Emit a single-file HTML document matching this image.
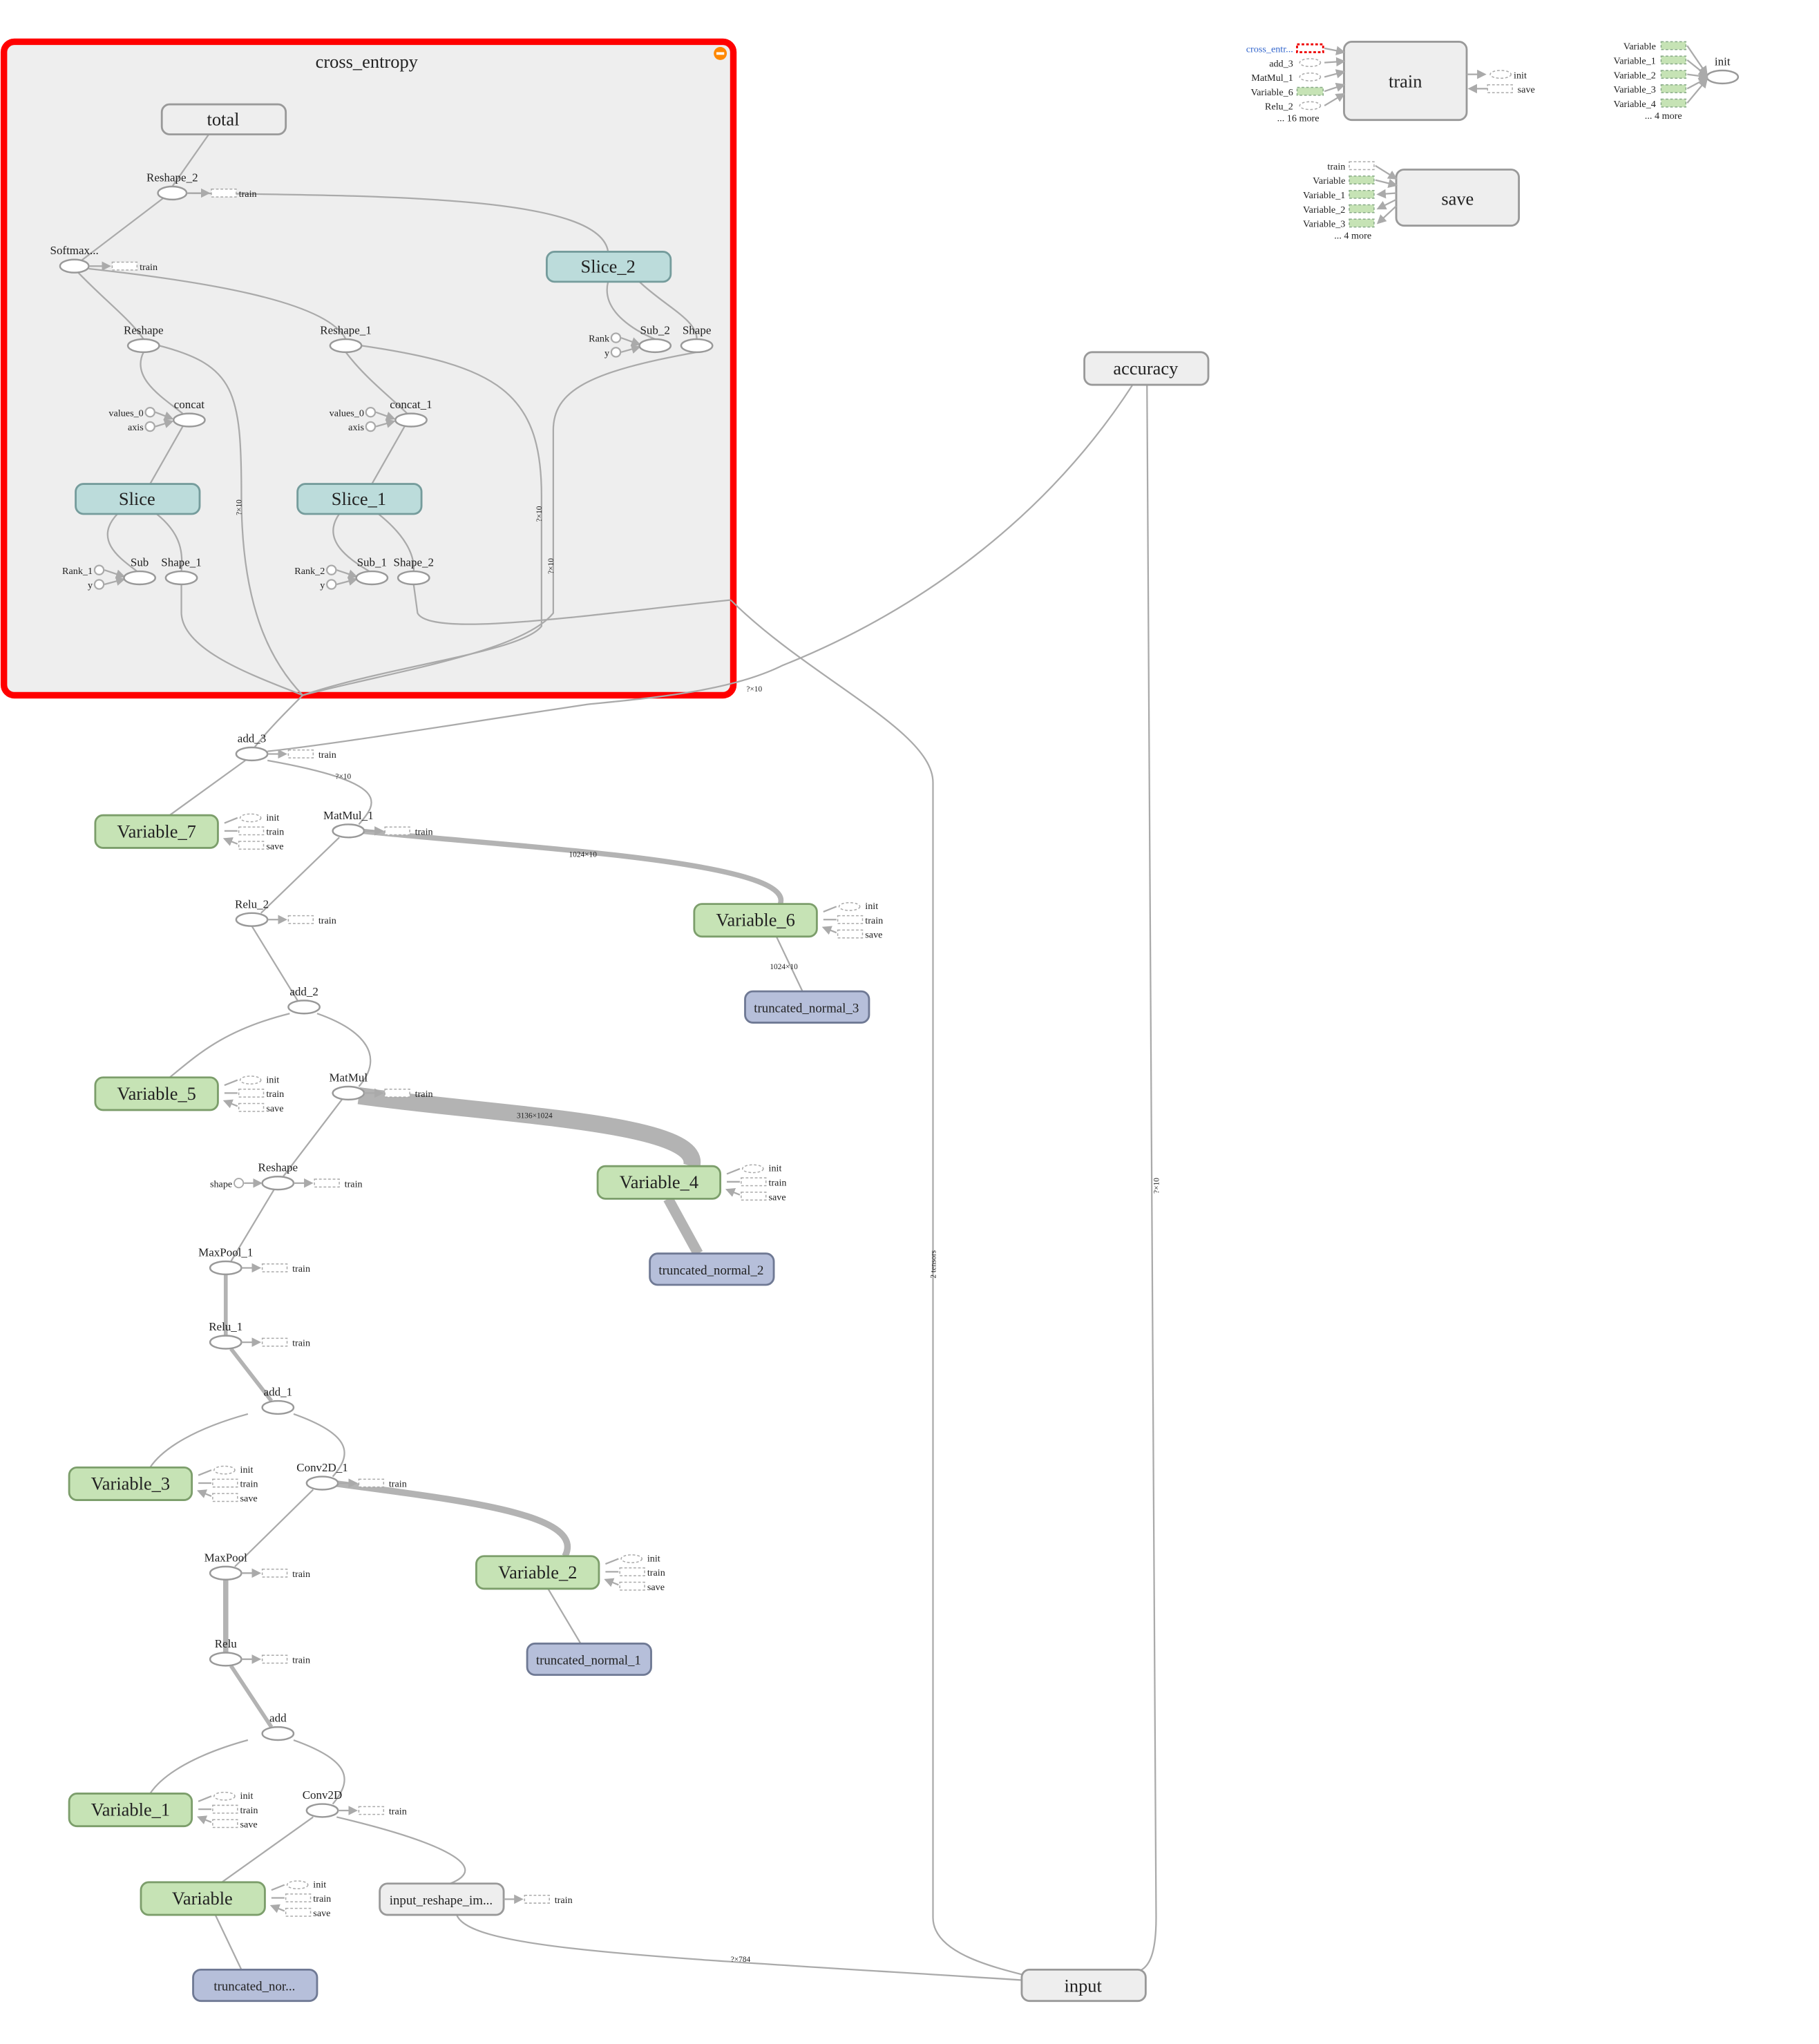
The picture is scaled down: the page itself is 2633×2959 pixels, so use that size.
<!DOCTYPE html>
<html><head><meta charset="utf-8"><style>
html,body{margin:0;padding:0;background:#fff;}
svg{display:block;}
text{font-family:"Liberation Serif",serif;fill:#222;}
.e{fill:none;stroke:#aaa;stroke-width:1.2;}
.op{fill:#fff;stroke:#999;stroke-width:1.3;}
.g{fill:#eee;stroke:#999;stroke-width:1.5;}
.gr{fill:#c6e3b5;stroke:#7c9e6b;stroke-width:1.5;}
.tl{fill:#bcdcdb;stroke:#759c9c;stroke-width:1.5;}
.bl{fill:#b6bfda;stroke:#6f7994;stroke-width:1.5;}
.d{fill:#fff;stroke:#aaa;stroke-dasharray:2,1.5;stroke-width:0.8;}
.dg{fill:#c6e3b5;stroke:#8a8;stroke-dasharray:2,1.5;stroke-width:0.8;}
.n{font-size:14px;text-anchor:middle;}
.s{font-size:9px;text-anchor:middle;}
.t{font-size:7.5px;}
.r{font-size:7.5px;text-anchor:end;}
</style></head><body>
<svg width="2633" height="2959" viewBox="0 0 1394 1567" preserveAspectRatio="none" xmlns="http://www.w3.org/2000/svg">
<defs><marker id="a" markerWidth="6" markerHeight="6" refX="5" refY="3" orient="auto"><path d="M0,0L6,3L0,6z" fill="#aaa"/></marker></defs>

<rect x="3" y="32" width="559" height="501" rx="8" fill="#eee" stroke="#f00" stroke-width="5"/>
<text x="281" y="52" class="n">cross_entropy</text>
<circle cx="552" cy="41" r="5" fill="#f80"/><rect x="549" y="40" width="6" height="2" fill="#fff"/>

<g class="e">
<path d="M160,103 L132,143"/>
<path d="M132,148 C300,150 460,150 466,193"/>
<path d="M125,152 L62,200"/>
<path d="M68,206 C150,215 250,230 265,260"/>
<path d="M60,209 C80,230 100,245 110,260"/>
<path d="M466,216 C460,240 490,255 502,260"/>
<path d="M490,216 C510,235 534,245 534,260"/>
<path d="M110,270 C100,290 125,305 140,317"/>
<path d="M265,270 C280,290 300,305 312,317"/>
<path d="M140,327 L115,371"/>
<path d="M310,327 L285,371"/>
<path d="M90,394 C70,415 95,430 105,438"/>
<path d="M120,394 C140,410 140,425 139,438"/>
<path d="M260,394 C245,415 270,430 283,438"/>
<path d="M290,394 C310,410 318,425 317,438"/>
<path d="M122,265 C180,280 185,300 185,380 C185,470 210,510 232,533"/>
<path d="M277,265 C380,280 415,300 415,380 L415,480 C400,500 300,510 232,533"/>
<path d="M534,270 C450,285 424,300 424,330 L424,470 C400,500 300,515 232,533"/>
<path d="M139,448 L139,470 C140,500 200,520 232,533"/>
<path d="M317,448 L320,470 C330,490 460,470 560,460"/>
</g>
<g fill="#fff" stroke="#aaa" stroke-width="1.2">
<circle cx="472" cy="259" r="3.5"/><circle cx="472" cy="270" r="3.5"/>
<circle cx="115" cy="316" r="3.5"/><circle cx="115" cy="327" r="3.5"/>
<circle cx="284" cy="316" r="3.5"/><circle cx="284" cy="327" r="3.5"/>
<circle cx="76" cy="437" r="3.5"/><circle cx="76" cy="448" r="3.5"/>
<circle cx="254" cy="437" r="3.5"/><circle cx="254" cy="448" r="3.5"/>
</g>
<g class="e" marker-end="url(#a)">
<path d="M476,259 L490,264"/><path d="M476,270 L490,266"/>
<path d="M119,316 L132,321"/><path d="M119,327 L132,323"/>
<path d="M288,316 L302,321"/><path d="M288,327 L302,323"/>
<path d="M80,437 L95,442"/><path d="M80,448 L95,444"/>
<path d="M258,437 L273,442"/><path d="M258,448 L273,444"/>
</g>
<rect x="124" y="80" width="95" height="23" rx="6" class="g"/><text x="171" y="96" class="n">total</text>
<rect x="419" y="193" width="95" height="23" rx="6" class="tl"/><text x="466" y="209" class="n">Slice_2</text>
<rect x="58" y="371" width="95" height="23" rx="6" class="tl"/><text x="105" y="387" class="n">Slice</text>
<rect x="228" y="371" width="95" height="23" rx="6" class="tl"/><text x="275" y="387" class="n">Slice_1</text>
<g class="op">
<ellipse cx="132" cy="148" rx="11" ry="5"/><ellipse cx="57" cy="204" rx="11" ry="5"/>
<ellipse cx="110" cy="265" rx="12" ry="5"/><ellipse cx="265" cy="265" rx="12" ry="5"/>
<ellipse cx="502" cy="265" rx="12" ry="5"/><ellipse cx="534" cy="265" rx="12" ry="5"/>
<ellipse cx="145" cy="322" rx="12" ry="5"/><ellipse cx="315" cy="322" rx="12" ry="5"/>
<ellipse cx="107" cy="443" rx="12" ry="5"/><ellipse cx="139" cy="443" rx="12" ry="5"/>
<ellipse cx="285" cy="443" rx="12" ry="5"/><ellipse cx="317" cy="443" rx="12" ry="5"/>
</g>
<text x="132" y="139" class="s">Reshape_2</text><text x="57" y="195" class="s">Softmax...</text>
<text x="110" y="256" class="s">Reshape</text><text x="265" y="256" class="s">Reshape_1</text>
<text x="502" y="256" class="s">Sub_2</text><text x="534" y="256" class="s">Shape</text>
<text x="145" y="313" class="s">concat</text><text x="315" y="313" class="s">concat_1</text>
<text x="107" y="434" class="s">Sub</text><text x="139" y="434" class="s">Shape_1</text>
<text x="285" y="434" class="s">Sub_1</text><text x="317" y="434" class="s">Shape_2</text>
<text x="467" y="262" class="r">Rank</text><text x="467" y="273" class="r">y</text>
<text x="110" y="319" class="r">values_0</text><text x="110" y="330" class="r">axis</text>
<text x="279" y="319" class="r">values_0</text><text x="279" y="330" class="r">axis</text>
<text x="71" y="440" class="r">Rank_1</text><text x="71" y="451" class="r">y</text>
<text x="249" y="440" class="r">Rank_2</text><text x="249" y="451" class="r">y</text>
<g class="e" marker-end="url(#a)"><path d="M143,148 L160,148"/><path d="M68,204 L84,204"/></g>
<rect x="162" y="145" width="19" height="6" class="d"/><text x="183" y="151" class="t">train</text>
<rect x="86" y="201" width="19" height="6" class="d"/><text x="107" y="207" class="t">train</text>

<g class="e">
<path d="M232,533 C220,545 205,560 195,573"/>
<path d="M560,460 C620,520 715,560 715,600 L715,1470 C715,1500 770,1510 800,1518"/>
<path d="M868,295 C800,400 700,470 600,510 C560,530 500,535 450,540 C350,555 260,570 205,576"/>
<path d="M879,295 L886,1470 C886,1500 880,1510 870,1512"/>
<path d="M188,583 L130,625"/>
<path d="M205,583 C300,600 290,615 275,632"/>
<path d="M260,642 L200,700"/>
<path d="M193,710 L228,767"/>
<path d="M222,777 C170,790 150,810 130,826"/>
<path d="M243,777 C280,790 295,810 275,833"/>
<path d="M262,843 L217,902"/>
<path d="M210,912 L177,967"/>
<path d="M190,1084 C150,1095 125,1110 115,1125"/>
<path d="M225,1084 C270,1100 270,1115 255,1132"/>
<path d="M240,1142 L180,1201"/>
<path d="M190,1334 C150,1345 125,1360 115,1375"/>
<path d="M225,1334 C270,1350 270,1365 255,1383"/>
<path d="M240,1393 L170,1443"/>
<path d="M258,1393 C330,1410 380,1430 345,1444"/>
<path d="M350,1468 C360,1495 500,1500 783,1518"/>
<path d="M165,1468 L185,1510"/>
<path d="M595,718 L615,760"/>
<path d="M420,1218 L445,1260"/>
</g>
<g fill="none" stroke="#b3b3b3">
<path d="M275,637 C400,650 610,660 598,693" stroke-width="4"/>
<path d="M275,840 C380,855 540,860 530,894" stroke-width="13"/>
<path d="M512,919 L535,961" stroke-width="8"/>
<path d="M173,977 L173,1024" stroke-width="3"/>
<path d="M177,1034 L208,1074" stroke-width="3"/>
<path d="M255,1137 C350,1150 450,1160 433,1193" stroke-width="5"/>
<path d="M173,1211 L173,1267" stroke-width="4"/>
<path d="M177,1277 L208,1324" stroke-width="3"/>
</g>
<rect x="73" y="625" width="94" height="25" rx="6" class="gr"/><text x="120" y="642" class="n">Variable_7</text>
<rect x="532" y="693" width="94" height="25" rx="6" class="gr"/><text x="579" y="710" class="n">Variable_6</text>
<rect x="571" y="760" width="95" height="24" rx="6" class="bl"/><text x="618" y="776" class="s" style="font-size:10px">truncated_normal_3</text>
<rect x="73" y="826" width="94" height="25" rx="6" class="gr"/><text x="120" y="843" class="n">Variable_5</text>
<rect x="458" y="894" width="94" height="25" rx="6" class="gr"/><text x="505" y="911" class="n">Variable_4</text>
<rect x="498" y="961" width="95" height="24" rx="6" class="bl"/><text x="545" y="977" class="s" style="font-size:10px">truncated_normal_2</text>
<rect x="53" y="1125" width="94" height="25" rx="6" class="gr"/><text x="100" y="1142" class="n">Variable_3</text>
<rect x="365" y="1193" width="94" height="25" rx="6" class="gr"/><text x="412" y="1210" class="n">Variable_2</text>
<rect x="404" y="1260" width="95" height="24" rx="6" class="bl"/><text x="451" y="1276" class="s" style="font-size:10px">truncated_normal_1</text>
<rect x="53" y="1375" width="94" height="25" rx="6" class="gr"/><text x="100" y="1392" class="n">Variable_1</text>
<rect x="108" y="1443" width="95" height="25" rx="6" class="gr"/><text x="155" y="1460" class="n">Variable</text>
<rect x="291" y="1444" width="95" height="24" rx="6" class="g"/><text x="338" y="1460" class="s" style="font-size:10px">input_reshape_im...</text>
<rect x="148" y="1510" width="95" height="24" rx="6" class="bl"/><text x="195" y="1526" class="s" style="font-size:10px">truncated_nor...</text>
<rect x="783" y="1510" width="95" height="24" rx="6" class="g"/><text x="830" y="1527" class="n">input</text>
<rect x="831" y="270" width="95" height="25" rx="6" class="g"/><text x="878" y="287" class="n">accuracy</text>

<g class="op">
<ellipse cx="193" cy="578" rx="12" ry="5"/><ellipse cx="267" cy="637" rx="12" ry="5"/>
<ellipse cx="193" cy="705" rx="12" ry="5"/><ellipse cx="233" cy="772" rx="12" ry="5"/>
<ellipse cx="267" cy="838" rx="12" ry="5"/><ellipse cx="213" cy="907" rx="12" ry="5"/>
<ellipse cx="173" cy="972" rx="12" ry="5"/><ellipse cx="173" cy="1029" rx="12" ry="5"/>
<ellipse cx="213" cy="1079" rx="12" ry="5"/><ellipse cx="247" cy="1137" rx="12" ry="5"/>
<ellipse cx="173" cy="1206" rx="12" ry="5"/><ellipse cx="173" cy="1272" rx="12" ry="5"/>
<ellipse cx="213" cy="1329" rx="12" ry="5"/><ellipse cx="247" cy="1388" rx="12" ry="5"/>
<ellipse cx="1320" cy="59" rx="12" ry="5"/>
</g>
<circle cx="183" cy="907" r="3.5" fill="#fff" stroke="#aaa"/>
<path d="M187,907 L200,907" class="e" marker-end="url(#a)"/>
<text x="178" y="910" class="r">shape</text>
<g class="s">
<text x="193" y="569">add_3</text><text x="267" y="628">MatMul_1</text><text x="193" y="696">Relu_2</text>
<text x="233" y="763">add_2</text><text x="267" y="829">MatMul</text><text x="213" y="898">Reshape</text>
<text x="173" y="963">MaxPool_1</text><text x="173" y="1020">Relu_1</text><text x="213" y="1070">add_1</text>
<text x="247" y="1128">Conv2D_1</text><text x="173" y="1197">MaxPool</text><text x="173" y="1263">Relu</text>
<text x="213" y="1320">add</text><text x="247" y="1379">Conv2D</text>
</g>
<g class="e" marker-end="url(#a)">
<path d="M205,578 L219,578"/><path d="M279,637 L293,637"/><path d="M205,705 L219,705"/>
<path d="M279,838 L293,838"/><path d="M225,907 L239,907"/><path d="M185,972 L199,972"/>
<path d="M185,1029 L199,1029"/><path d="M259,1137 L273,1137"/><path d="M185,1206 L199,1206"/>
<path d="M185,1272 L199,1272"/><path d="M259,1388 L273,1388"/><path d="M386,1456 L400,1456"/>
</g>
<g class="d">
<rect x="221" y="575" width="19" height="6"/><rect x="295" y="634" width="19" height="6"/><rect x="221" y="702" width="19" height="6"/>
<rect x="295" y="835" width="19" height="6"/><rect x="241" y="904" width="19" height="6"/><rect x="201" y="969" width="19" height="6"/>
<rect x="201" y="1026" width="19" height="6"/><rect x="275" y="1134" width="19" height="6"/><rect x="201" y="1203" width="19" height="6"/>
<rect x="201" y="1269" width="19" height="6"/><rect x="275" y="1385" width="19" height="6"/><rect x="402" y="1453" width="19" height="6"/>
</g>
<g class="t">
<text x="244" y="581">train</text><text x="318" y="640">train</text><text x="244" y="708">train</text>
<text x="318" y="841">train</text><text x="264" y="910">train</text><text x="224" y="975">train</text>
<text x="224" y="1032">train</text><text x="298" y="1140">train</text><text x="224" y="1209">train</text>
<text x="224" y="1275">train</text><text x="298" y="1391">train</text><text x="425" y="1459">train</text>
</g>
<g>
<g transform="translate(167,637)"><path d="M5,-6 L15,-10" class="e"/><path d="M5,0 L15,0" class="e"/><path d="M15,10 L5,6" class="e" marker-end="url(#a)"/><ellipse cx="25" cy="-10" rx="8" ry="3" class="d"/><rect x="16" y="-3" width="19" height="6" class="d"/><rect x="16" y="8" width="19" height="6" class="d"/><text x="37" y="-8" class="t">init</text><text x="37" y="3" class="t">train</text><text x="37" y="14" class="t">save</text></g>
<g transform="translate(626,705)"><path d="M5,-6 L15,-10" class="e"/><path d="M5,0 L15,0" class="e"/><path d="M15,10 L5,6" class="e" marker-end="url(#a)"/><ellipse cx="25" cy="-10" rx="8" ry="3" class="d"/><rect x="16" y="-3" width="19" height="6" class="d"/><rect x="16" y="8" width="19" height="6" class="d"/><text x="37" y="-8" class="t">init</text><text x="37" y="3" class="t">train</text><text x="37" y="14" class="t">save</text></g>
<g transform="translate(167,838)"><path d="M5,-6 L15,-10" class="e"/><path d="M5,0 L15,0" class="e"/><path d="M15,10 L5,6" class="e" marker-end="url(#a)"/><ellipse cx="25" cy="-10" rx="8" ry="3" class="d"/><rect x="16" y="-3" width="19" height="6" class="d"/><rect x="16" y="8" width="19" height="6" class="d"/><text x="37" y="-8" class="t">init</text><text x="37" y="3" class="t">train</text><text x="37" y="14" class="t">save</text></g>
<g transform="translate(552,906)"><path d="M5,-6 L15,-10" class="e"/><path d="M5,0 L15,0" class="e"/><path d="M15,10 L5,6" class="e" marker-end="url(#a)"/><ellipse cx="25" cy="-10" rx="8" ry="3" class="d"/><rect x="16" y="-3" width="19" height="6" class="d"/><rect x="16" y="8" width="19" height="6" class="d"/><text x="37" y="-8" class="t">init</text><text x="37" y="3" class="t">train</text><text x="37" y="14" class="t">save</text></g>
<g transform="translate(147,1137)"><path d="M5,-6 L15,-10" class="e"/><path d="M5,0 L15,0" class="e"/><path d="M15,10 L5,6" class="e" marker-end="url(#a)"/><ellipse cx="25" cy="-10" rx="8" ry="3" class="d"/><rect x="16" y="-3" width="19" height="6" class="d"/><rect x="16" y="8" width="19" height="6" class="d"/><text x="37" y="-8" class="t">init</text><text x="37" y="3" class="t">train</text><text x="37" y="14" class="t">save</text></g>
<g transform="translate(459,1205)"><path d="M5,-6 L15,-10" class="e"/><path d="M5,0 L15,0" class="e"/><path d="M15,10 L5,6" class="e" marker-end="url(#a)"/><ellipse cx="25" cy="-10" rx="8" ry="3" class="d"/><rect x="16" y="-3" width="19" height="6" class="d"/><rect x="16" y="8" width="19" height="6" class="d"/><text x="37" y="-8" class="t">init</text><text x="37" y="3" class="t">train</text><text x="37" y="14" class="t">save</text></g>
<g transform="translate(147,1387)"><path d="M5,-6 L15,-10" class="e"/><path d="M5,0 L15,0" class="e"/><path d="M15,10 L5,6" class="e" marker-end="url(#a)"/><ellipse cx="25" cy="-10" rx="8" ry="3" class="d"/><rect x="16" y="-3" width="19" height="6" class="d"/><rect x="16" y="8" width="19" height="6" class="d"/><text x="37" y="-8" class="t">init</text><text x="37" y="3" class="t">train</text><text x="37" y="14" class="t">save</text></g>
<g transform="translate(203,1455)"><path d="M5,-6 L15,-10" class="e"/><path d="M5,0 L15,0" class="e"/><path d="M15,10 L5,6" class="e" marker-end="url(#a)"/><ellipse cx="25" cy="-10" rx="8" ry="3" class="d"/><rect x="16" y="-3" width="19" height="6" class="d"/><rect x="16" y="8" width="19" height="6" class="d"/><text x="37" y="-8" class="t">init</text><text x="37" y="3" class="t">train</text><text x="37" y="14" class="t">save</text></g>
</g>

<g class="t" fill="#555" style="font-size:6px">
<text x="572" y="530">?×10</text><text x="257" y="597">?×10</text><text x="436" y="657">1024×10</text>
<text x="396" y="857">3136×1024</text><text x="590" y="743">1024×10</text><text x="560" y="1504">?×784</text>
<text x="888" y="915" transform="rotate(-90 888 915)">?×10</text>
<text x="717" y="980" transform="rotate(-90 717 980)">2 tensors</text>
<text x="185" y="395" transform="rotate(-90 185 395)">?×10</text>
<text x="415" y="400" transform="rotate(-90 415 400)">?×10</text>
<text x="424" y="440" transform="rotate(-90 424 440)">?×10</text>
</g>

<rect x="1030" y="32" width="94" height="60" rx="6" class="g"/><text x="1077" y="67" class="n">train</text>
<g class="e" marker-end="url(#a)">
<path d="M1015,37 L1030,40"/><path d="M1015,48 L1030,47"/><path d="M1015,59 L1030,55"/>
<path d="M1015,70 L1030,65"/><path d="M1015,81 L1030,72"/>
<path d="M1124,57 L1138,57"/><path d="M1140,68 L1126,68"/>
</g>
<rect x="994" y="34" width="20" height="6" fill="#fff" stroke="#e00" stroke-dasharray="2,1.5" stroke-width="1.5"/>
<ellipse cx="1004" cy="48" rx="8" ry="3" class="d"/><ellipse cx="1004" cy="59" rx="8" ry="3" class="d"/>
<rect x="994" y="67" width="20" height="6" class="dg"/><ellipse cx="1004" cy="81" rx="8" ry="3" class="d"/>
<text x="991" y="40" class="r" style="fill:#36c">cross_entr...</text>
<text x="991" y="51" class="r">add_3</text><text x="991" y="62" class="r">MatMul_1</text>
<text x="991" y="73" class="r">Variable_6</text><text x="991" y="84" class="r">Relu_2</text>
<text x="1011" y="93" class="r">... 16 more</text>
<ellipse cx="1150" cy="57" rx="8" ry="3" class="d"/><rect x="1140" y="65" width="19" height="6" class="d"/>
<text x="1160" y="60" class="t">init</text><text x="1163" y="71" class="t">save</text>

<rect x="1070" y="130" width="94" height="43" rx="6" class="g"/><text x="1117" y="157" class="n">save</text>
<g class="e" marker-end="url(#a)">
<path d="M1054,127 L1070,137"/><path d="M1054,138 L1070,142"/><path d="M1070,148 L1056,149"/>
<path d="M1070,153 L1056,160"/><path d="M1070,158 L1056,171"/>
</g>
<rect x="1034" y="124" width="19" height="6" class="d"/>
<rect x="1034" y="135" width="19" height="6" class="dg"/><rect x="1034" y="146" width="19" height="6" class="dg"/>
<rect x="1034" y="157" width="19" height="6" class="dg"/><rect x="1034" y="168" width="19" height="6" class="dg"/>
<text x="1031" y="130" class="r">train</text><text x="1031" y="141" class="r">Variable</text>
<text x="1031" y="152" class="r">Variable_1</text><text x="1031" y="163" class="r">Variable_2</text>
<text x="1031" y="174" class="r">Variable_3</text><text x="1051" y="183" class="r">... 4 more</text>

<g class="e" marker-end="url(#a)">
<path d="M1293,35 L1308,57"/><path d="M1293,46 L1308,58"/><path d="M1293,57 L1308,59"/>
<path d="M1293,68 L1308,60"/><path d="M1293,79 L1308,61"/>
</g>
<rect x="1273" y="32" width="19" height="6" class="dg"/><rect x="1273" y="43" width="19" height="6" class="dg"/>
<rect x="1273" y="54" width="19" height="6" class="dg"/><rect x="1273" y="65" width="19" height="6" class="dg"/>
<rect x="1273" y="76" width="19" height="6" class="dg"/>
<text x="1269" y="38" class="r">Variable</text><text x="1269" y="49" class="r">Variable_1</text>
<text x="1269" y="60" class="r">Variable_2</text><text x="1269" y="71" class="r">Variable_3</text>
<text x="1269" y="82" class="r">Variable_4</text><text x="1289" y="91" class="r">... 4 more</text>
<text x="1320" y="50" class="s">init</text>
</svg>
</body></html>
